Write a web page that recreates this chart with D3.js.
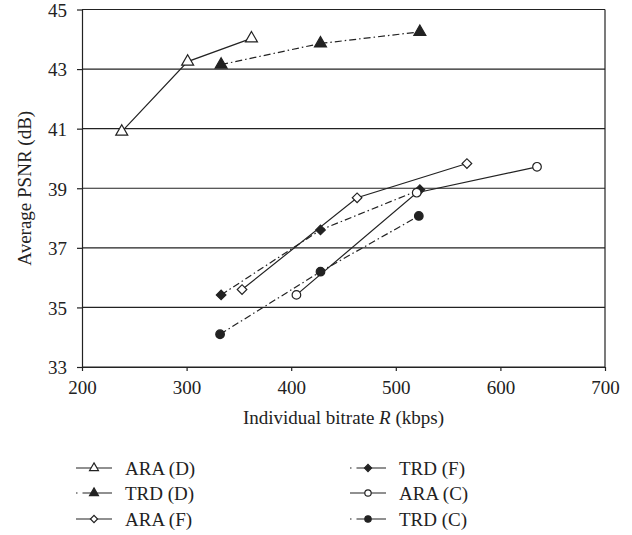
<!DOCTYPE html>
<html>
<head>
<meta charset="utf-8">
<title>Average PSNR vs bitrate</title>
<script src="https://d3js.org/d3.v7.min.js"></script>
<style>
  body { margin: 0; background: #fff; }
  text { font-family: "Liberation Serif", "Times New Roman", serif; fill: #222; }
</style>
</head>
<body>
<div id="chart"></div>
<script>

// data: [bitrate kbps, PSNR dB]
var araD = [[238, 40.9], [301, 43.25], [362, 44.03]];
var trdD = [[333, 43.15], [428, 43.86], [523, 44.25]];
var araF = [[353, 35.6], [463, 38.68], [568, 39.83]];
var trdF = [[333, 35.42], [428, 37.6], [523, 38.95]];
var araC = [[405, 35.42], [520, 38.85], [635, 39.72]];
var trdC = [[332, 34.1], [428, 36.2], [522, 38.07]];

var seriesNames = ["ARA (D)", "TRD (D)", "ARA (F)", "TRD (F)", "ARA (C)", "TRD (C)"];
var xTicks = [200, 300, 400, 500, 600, 700];
var yTicks = [33, 35, 37, 39, 41, 43, 45];

// diamonds are squares turned by 45 degrees
var series = [
  {name: seriesNames[0], data: araD, shape: d3.symbolTriangle, size: 62, rot: 0,  fill: false, dash: null},
  {name: seriesNames[1], data: trdD, shape: d3.symbolTriangle, size: 62, rot: 0,  fill: true,  dash: "7,3,1.5,3"},
  {name: seriesNames[2], data: araF, shape: d3.symbolSquare,   size: 46, rot: 45, fill: false, dash: null},
  {name: seriesNames[3], data: trdF, shape: d3.symbolSquare,   size: 46, rot: 45, fill: true,  dash: "7,3,1.5,3"},
  {name: seriesNames[4], data: araC, shape: d3.symbolCircle,   size: 58, rot: 0,  fill: false, dash: null},
  {name: seriesNames[5], data: trdC, shape: d3.symbolCircle,   size: 58, rot: 0,  fill: true,  dash: "7,3,1.5,3"}
];

var W = 632, H = 535;
var margin = {top: 9.5, right: 27, bottom: 168, left: 82};
var width = W - margin.left - margin.right,
    height = H - margin.top - margin.bottom;

var svg = d3.select("#chart").append("svg")
    .attr("width", W)
    .attr("height", H);

var g = svg.append("g")
    .attr("transform", "translate(" + margin.left + "," + margin.top + ")");

var x = d3.scaleLinear().domain([200, 700]).range([0, width]);
var y = d3.scaleLinear().domain([33, 45]).range([height, 0]);

var ink = "#222";

// horizontal grid lines
g.selectAll(".grid")
  .data(yTicks)
  .enter().append("line")
  .attr("x1", 0).attr("x2", width)
  .attr("y1", function(d) { return y(d); })
  .attr("y2", function(d) { return y(d); })
  .attr("stroke", ink).attr("stroke-width", 1.2);

// right edge of the box
g.append("line").attr("x1", width).attr("x2", width).attr("y1", 0).attr("y2", height)
  .attr("stroke", ink).attr("stroke-width", 1.2);

// axes
var xAxis = g.append("g")
  .attr("transform", "translate(0," + height + ")")
  .call(d3.axisBottom(x).tickValues(xTicks).tickSize(4).tickPadding(10).tickSizeOuter(0));
var yAxis = g.append("g")
  .call(d3.axisLeft(y).tickValues(yTicks).tickSize(5).tickPadding(10).tickSizeOuter(0));

[xAxis, yAxis].forEach(function(a) {
  a.select(".domain").attr("stroke", ink).attr("stroke-width", 1.2);
  a.selectAll(".tick line").attr("stroke", ink).attr("stroke-width", 1.2);
  a.selectAll(".tick text")
    .attr("font-family", "Liberation Serif, serif")
    .attr("font-size", 19)
    .attr("fill", ink);
});
yAxis.selectAll(".tick text").attr("dy", "0.36em");

// axis titles
svg.append("text")
  .attr("x", margin.left + width / 2)
  .attr("y", 424)
  .attr("text-anchor", "middle")
  .attr("font-size", 19)
  .html("Individual bitrate <tspan font-style='italic'>R</tspan> (kbps)");

svg.append("text")
  .attr("transform", "translate(31," + (margin.top + height / 2) + ") rotate(-90)")
  .attr("text-anchor", "middle")
  .attr("font-size", 19)
  .text("Average PSNR (dB)");

var line = d3.line()
  .x(function(d) { return x(d[0]); })
  .y(function(d) { return y(d[1]); });

series.forEach(function(s) {
  g.append("path")
    .datum(s.data)
    .attr("d", line)
    .attr("fill", "none")
    .attr("stroke", ink)
    .attr("stroke-width", 1.2)
    .attr("stroke-dasharray", s.dash);

  g.selectAll(null)
    .data(s.data)
    .enter().append("path")
    .attr("transform", function(d) {
      return "translate(" + x(d[0]) + "," + y(d[1]) + ") rotate(" + s.rot + ")";
    })
    .attr("d", d3.symbol().type(s.shape).size(s.size))
    .attr("fill", s.fill ? ink : "#fff")
    .attr("stroke", ink)
    .attr("stroke-width", 1.2);
});

// legend: two columns of three
var legendRows = [468, 493, 519];
var legendCols = [76, 350];

series.forEach(function(s, i) {
  var col = Math.floor(i / 3), row = i % 3;
  var lx = legendCols[col], ly = legendRows[row];
  var item = svg.append("g").attr("transform", "translate(" + lx + "," + ly + ")");
  item.append("line")
    .attr("x1", 0).attr("x2", 36).attr("y1", 0).attr("y2", 0)
    .attr("stroke", ink).attr("stroke-width", 1.2)
    .attr("stroke-dasharray", s.dash ? "1.5,5,40" : null);
  item.append("path")
    .attr("transform", "translate(18,0) rotate(" + s.rot + ")")
    .attr("d", d3.symbol().type(s.shape).size(s.size * 0.55))
    .attr("fill", s.fill ? ink : "#fff")
    .attr("stroke", ink)
    .attr("stroke-width", 1.2);
  item.append("text")
    .attr("x", 49)
    .attr("y", 0)
    .attr("dy", "0.35em")
    .attr("font-size", 19)
    .text(s.name);
});

</script>
</body>
</html>
